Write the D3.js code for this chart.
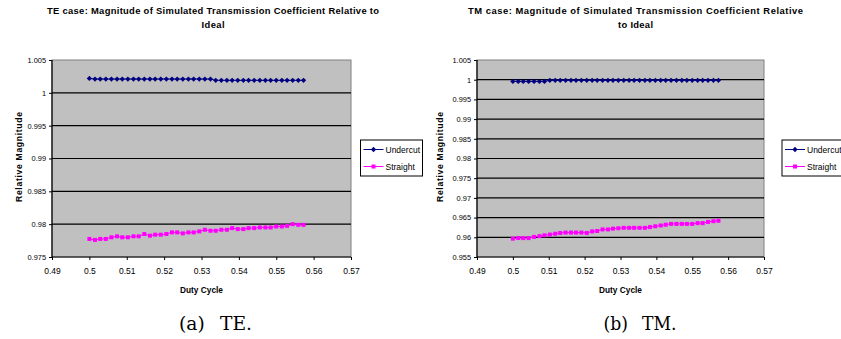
<!DOCTYPE html>
<html>
<head>
<meta charset="utf-8">
<script src="https://cdn.jsdelivr.net/npm/d3@7"></script>
<style>
  html, body { margin: 0; padding: 0; background: #ffffff; }
  svg { display: block; }
</style>
</head>
<body>
<svg id="fig" width="841" height="339"></svg>
<script>
// Duty cycle sample points (shared by both polarisations)
const dutyCycle = [
  0.5000, 0.5015, 0.5029, 0.5044, 0.5059, 0.5074, 0.5088, 0.5103, 0.5118, 0.5132,
  0.5147, 0.5162, 0.5176, 0.5191, 0.5206, 0.5221, 0.5235, 0.5250, 0.5265, 0.5279,
  0.5294, 0.5309, 0.5324, 0.5338, 0.5353, 0.5368, 0.5382, 0.5397, 0.5412, 0.5426,
  0.5441, 0.5456, 0.5471, 0.5485, 0.5500, 0.5515, 0.5529, 0.5544, 0.5559, 0.5573
];

// TE case: relative magnitude
const teUndercut = [
  1.0022, 1.0021, 1.0021, 1.0021, 1.0021, 1.0021, 1.0021, 1.0021, 1.0021, 1.0021,
  1.0021, 1.0021, 1.0021, 1.0021, 1.0021, 1.0021, 1.0021, 1.0021, 1.0021, 1.0021,
  1.0021, 1.0021, 1.0021, 1.0019, 1.0019, 1.0019, 1.0019, 1.0019, 1.0019, 1.0019,
  1.0019, 1.0019, 1.0019, 1.0019, 1.0019, 1.0019, 1.0019, 1.0019, 1.0019, 1.0019
];
const teStraight = [
  0.97775, 0.97760, 0.97775, 0.97775, 0.97800, 0.97815, 0.97800, 0.97800, 0.97815, 0.97815,
  0.97850, 0.97825, 0.97840, 0.97840, 0.97850, 0.97875, 0.97875, 0.97860, 0.97875, 0.97875,
  0.97890, 0.97915, 0.97900, 0.97900, 0.97915, 0.97915, 0.97940, 0.97925, 0.97925, 0.97940,
  0.97940, 0.97950, 0.97950, 0.97950, 0.97965, 0.97965, 0.97975, 0.98000, 0.97990, 0.97990
];

// TM case: relative magnitude
const tmUndercut = [
  0.99957, 0.99957, 0.99957, 0.99957, 0.99957, 0.99957, 0.99957, 0.99983, 0.99983, 0.99983,
  0.99983, 0.99983, 0.99983, 0.99983, 0.99983, 0.99983, 0.99983, 0.99983, 0.99983, 0.99983,
  0.99983, 0.99983, 0.99983, 0.99983, 0.99983, 0.99983, 0.99983, 0.99983, 0.99983, 0.99983,
  0.99983, 0.99983, 0.99983, 0.99983, 0.99983, 0.99983, 0.99983, 0.99983, 0.99983, 0.99983
];
const tmStraight = [
  0.95966, 0.95983, 0.95980, 0.95980, 0.96010, 0.96030, 0.96050, 0.96070, 0.96090, 0.96110,
  0.96120, 0.96120, 0.96120, 0.96120, 0.96110, 0.96150, 0.96160, 0.96200, 0.96200, 0.96220,
  0.96230, 0.96240, 0.96240, 0.96240, 0.96240, 0.96240, 0.96260, 0.96280, 0.96300, 0.96320,
  0.96340, 0.96340, 0.96340, 0.96340, 0.96340, 0.96360, 0.96360, 0.96390, 0.96410, 0.96420
];

// Axis ticks
const xTicks = [0.49, 0.50, 0.51, 0.52, 0.53, 0.54, 0.55, 0.56, 0.57];
const teYTicks = [0.975, 0.98, 0.985, 0.99, 0.995, 1, 1.005];
const tmYTicks = [0.955, 0.96, 0.965, 0.97, 0.975, 0.98, 0.985, 0.99, 0.995, 1, 1.005];

// Text
const seriesNames = ["Undercut", "Straight"];
const seriesColors = ["#000080", "#ff00ff"];
const teTitle = ["TE case: Magnitude of Simulated Transmission Coefficient Relative to", "Ideal"];
const tmTitle = ["TM case: Magnitude of Simulated Transmission Coefficient Relative", "to Ideal"];
const xLabel = "Duty Cycle";
const yLabel = "Relative Magnitude";
const captions = ["(a)\u2002 TE.", "(b)\u2002 TM."];

const svg = d3.select("#fig");
const sans = "'Liberation Sans', Arial, sans-serif";
const serif = "'DejaVu Serif', 'Liberation Serif', serif";
const fmt = v => String(+v.toFixed(3));

function drawPanel(cfg) {
  const g = svg.append("g");
  const x = d3.scaleLinear().domain([xTicks[0], xTicks[xTicks.length - 1]]).range([cfg.left, cfg.right]);
  const yt = cfg.yTicks;
  const y = d3.scaleLinear().domain([yt[0], yt[yt.length - 1]]).range([cfg.bottom, cfg.top]);

  // two-line title
  cfg.title.forEach((t, i) => {
    g.append("text")
      .attr("x", cfg.titleX).attr("y", 14 + i * 14)
      .attr("text-anchor", "middle")
      .attr("textLength", cfg.titleLen[i])
      .attr("lengthAdjust", "spacing")
      .style("font", `bold 9.4px ${sans}`)
      .text(t);
  });

  // plot area
  g.append("rect")
    .attr("x", cfg.left).attr("y", cfg.top)
    .attr("width", cfg.right - cfg.left).attr("height", cfg.bottom - cfg.top)
    .attr("fill", "#c0c0c0")
    .attr("stroke", "#808080").attr("stroke-width", 1);

  // horizontal gridlines
  g.append("g").selectAll("line")
    .data(yt.slice(1, -1))
    .join("line")
    .attr("x1", cfg.left).attr("x2", cfg.right)
    .attr("y1", d => y(d)).attr("y2", d => y(d))
    .attr("stroke", "#000").attr("stroke-width", 1.2);

  // axes
  const yAxis = g.append("g")
    .attr("transform", `translate(${cfg.left},0)`)
    .call(d3.axisLeft(y).tickValues(yt).tickFormat(fmt).tickSize(3).tickPadding(3));
  const xAxis = g.append("g")
    .attr("transform", `translate(0,${cfg.bottom})`)
    .call(d3.axisBottom(x).tickValues(xTicks).tickFormat(fmt).tickSize(3).tickPadding(8));
  [yAxis, xAxis].forEach(a => {
    a.select(".domain").attr("stroke", "#000").attr("stroke-width", 1.2);
    a.selectAll(".tick line").attr("stroke", "#000");
    a.selectAll(".tick text").attr("fill", "#000");
  });
  yAxis.selectAll(".tick text").style("font", `7.4px ${sans}`);
  xAxis.selectAll(".tick text").style("font", `8.5px ${sans}`);
  xAxis.select(".domain").attr("d", `M${cfg.left},0H${cfg.right}`);
  yAxis.select(".domain").attr("d", `M0,${cfg.top}V${cfg.bottom}`);

  // axis titles
  g.append("text")
    .attr("x", (cfg.left + cfg.right) / 2).attr("y", 293)
    .attr("text-anchor", "middle")
    .style("font", `bold 8.3px ${sans}`)
    .text(xLabel);
  g.append("text")
    .attr("transform", `translate(${cfg.yLabelX},157) rotate(-90)`)
    .attr("text-anchor", "middle")
    .attr("textLength", 90)
    .attr("lengthAdjust", "spacing")
    .style("font", `bold 8.6px ${sans}`)
    .text(yLabel);

  // series
  const series = [cfg.undercut, cfg.straight];
  const line = d3.line().x((d, i) => x(dutyCycle[i])).y(d => y(d));
  series.forEach((vals, s) => {
    g.append("path")
      .attr("d", line(vals))
      .attr("fill", "none")
      .attr("stroke", seriesColors[s]).attr("stroke-width", 1);
  });
  const diamond = d3.symbol().type(d3.symbolDiamond2).size(18);
  g.append("g").selectAll("path")
    .data(cfg.undercut)
    .join("path")
    .attr("transform", (d, i) => `translate(${x(dutyCycle[i])},${y(d)})`)
    .attr("d", diamond)
    .attr("fill", seriesColors[0]);
  g.append("g").selectAll("rect")
    .data(cfg.straight)
    .join("rect")
    .attr("x", (d, i) => x(dutyCycle[i]) - 2)
    .attr("y", d => y(d) - 2)
    .attr("width", 4).attr("height", 4)
    .attr("fill", seriesColors[1]);

  // legend
  const lg = g.append("g").attr("transform", `translate(${cfg.legendX},140)`);
  lg.append("rect")
    .attr("x", 0).attr("y", 0).attr("width", 62).attr("height", 36)
    .attr("fill", "#fff").attr("stroke", "#000").attr("stroke-width", 1);
  seriesNames.forEach((name, s) => {
    const cy = s === 0 ? 9.5 : 26.5;
    lg.append("line")
      .attr("x1", 3).attr("x2", 23).attr("y1", cy).attr("y2", cy)
      .attr("stroke", seriesColors[s]).attr("stroke-width", 1);
    if (s === 0) {
      lg.append("path")
        .attr("transform", `translate(13,${cy})`)
        .attr("d", diamond)
        .attr("fill", seriesColors[s]);
    } else {
      lg.append("rect")
        .attr("x", 11).attr("y", cy - 2).attr("width", 4).attr("height", 4)
        .attr("fill", seriesColors[s]);
    }
    lg.append("text")
      .attr("x", 25).attr("y", cy + 3)
      .style("font", `8.5px ${sans}`)
      .text(name);
  });

  // caption
  g.append("text")
    .attr("x", cfg.captionX).attr("y", 330)
    .attr("text-anchor", "middle")
    .attr("textLength", 73)
    .attr("lengthAdjust", "spacingAndGlyphs")
    .style("font", `18px ${serif}`)
    .text(cfg.caption);
}

drawPanel({
  left: 52, right: 351, top: 60, bottom: 257,
  yTicks: teYTicks, undercut: teUndercut, straight: teStraight,
  title: teTitle, titleLen: [332, 23], titleX: 213, yLabelX: 21.5, legendX: 360.5,
  caption: captions[0], captionX: 215.5
});
drawPanel({
  left: 477, right: 764, top: 60, bottom: 257,
  yTicks: tmYTicks, undercut: tmUndercut, straight: tmStraight,
  title: tmTitle, titleLen: [335, 35], titleX: 635.5, yLabelX: 443, legendX: 782,
  caption: captions[1], captionX: 640
});
</script>
</body>
</html>
